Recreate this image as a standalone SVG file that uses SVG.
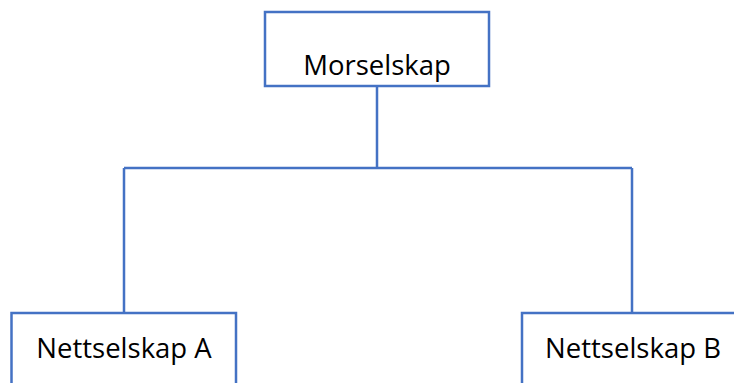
<svg xmlns="http://www.w3.org/2000/svg" width="734" height="383" viewBox="0 0 734 383">
<style>
.box{fill:#ffffff;stroke:#4472C4;stroke-width:2.5}
.lbl{font-family:"Open Sans","Liberation Sans",sans-serif;font-size:27.5px;fill:#000000;text-anchor:middle}
.conn{fill:none;stroke:#4472C4;stroke-width:2.5}
</style>
<rect width="734" height="383" fill="#ffffff"/>
<g id="connectors">
<path class="conn" d="M377 86 V168 M124 168 H632 M124 168 V313 M632 168 V313"/>
</g>
<g id="morselskap">
<rect class="box" x="265" y="12" width="224" height="74"/>
<text class="lbl" x="377" y="75">Morselskap</text>
</g>
<g id="nettselskap-a">
<rect class="box" x="11.5" y="313" width="224.5" height="80"/>
<text class="lbl" x="124" y="358">Nettselskap A</text>
</g>
<g id="nettselskap-b">
<rect class="box" x="522" y="313" width="224" height="80"/>
<text class="lbl" x="633" y="358">Nettselskap B</text>
</g>
</svg>
